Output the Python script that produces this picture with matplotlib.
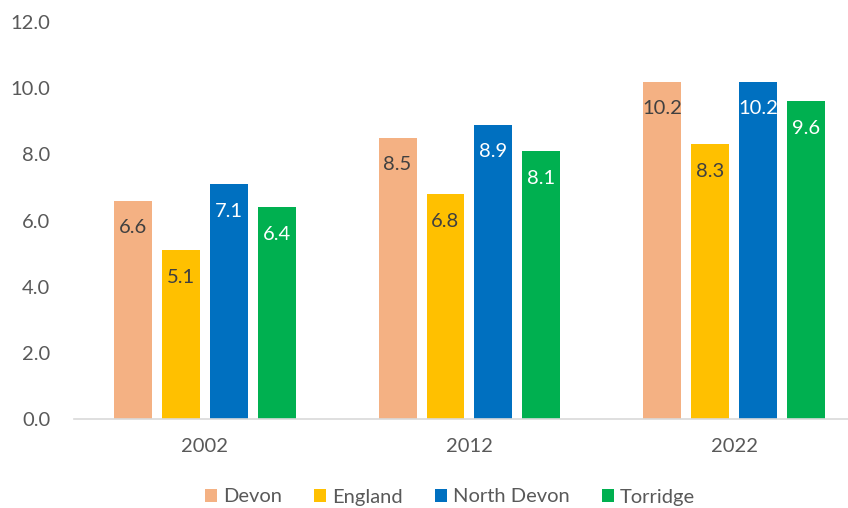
import numpy as np
import matplotlib
matplotlib.use("Agg")
import matplotlib.pyplot as plt

years = ["2002", "2012", "2022"]
series = ["Devon", "England", "North Devon", "Torridge"]
devon = [6.6, 8.5, 10.2]
england = [5.1, 6.8, 8.3]
north_devon = [7.1, 8.9, 10.2]
torridge = [6.4, 8.1, 9.6]

colours = ["#F4B183", "#FFC000", "#0070C0", "#00B050"]
label_colours = ["#404040", "#404040", "white", "white"]

plt.rcParams['font.family'] = ['Lato', 'DejaVu Sans']

fig = plt.figure(figsize=(8.48, 5.08), dpi=100)
ax = fig.add_axes([74 / 848, 89 / 508, 1 - 74 / 848, (419 - 22) / 508])

x = np.arange(len(years))
pitch = 48 / 265
width = 38 / 265
values = [devon, england, north_devon, torridge]

for i, (name, vals) in enumerate(zip(series, values)):
    pos = x + (i - 1.5) * pitch
    ax.bar(pos, vals, width, color=colours[i], label=name)
    for px, v in zip(pos, vals):
        ax.annotate("{:.1f}".format(v), (px, v), xytext=(0, -27),
                    textcoords="offset pixels", ha="center", va="center",
                    fontsize=14.5, color=label_colours[i])

ax.set_ylim(0, 12)
ax.set_yticks(np.arange(0, 13, 2))
ax.set_yticklabels(["{:.1f}".format(t) for t in np.arange(0, 13, 2)])
ax.set_xlim(-0.494, 2.43)
ax.set_xticks(x)
ax.set_xticklabels(years)

for s in ["top", "right", "left"]:
    ax.spines[s].set_visible(False)
ax.spines["bottom"].set_color("#D9D9D9")
ax.spines["bottom"].set_linewidth(1.2)
ax.tick_params(axis="both", length=0, labelsize=14.5, colors="#595959")
ax.tick_params(axis="y", pad=17)
ax.tick_params(axis="x", pad=14)

ax.legend(loc="center", bbox_to_anchor=(450 / 848, 1 - 497 / 508),
          bbox_transform=fig.transFigure, ncol=4, frameon=False,
          fontsize=14.5, handlelength=0.6, handleheight=0.6,
          handletextpad=0.3, columnspacing=1.6, labelcolor="#595959")

fig.savefig("out.png", dpi=100, facecolor="white")
